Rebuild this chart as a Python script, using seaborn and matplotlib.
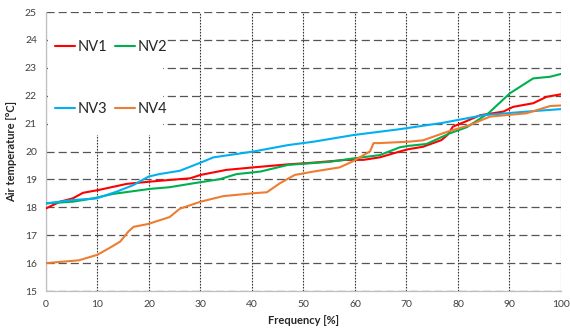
import pandas as pd
import matplotlib
matplotlib.use("Agg")
import matplotlib.pyplot as plt
import seaborn as sns
from matplotlib.patches import Rectangle

# données (fréquence cumulée [%], température [°C])
nv1_freq = [0, 2.7, 5.2, 7.2, 10.2, 15.7, 20.2, 24, 28, 30, 35, 40.2, 47, 51.9, 58.3, 61.6,
            64.8, 68.7, 70.3, 73.2, 76.8, 78, 79, 81.4, 84.3, 88.8, 90.7, 94.6, 97.2, 100]
nv1_temp = [17.96, 18.2, 18.32, 18.52, 18.62, 18.84, 18.92, 18.98, 19.04, 19.16, 19.34, 19.43,
            19.54, 19.6, 19.7, 19.7, 19.79, 20.0, 20.08, 20.17, 20.41, 20.6, 20.89, 21.07, 21.3,
            21.43, 21.6, 21.73, 21.96, 22.05]

nv2_freq = [0, 5.2, 9.2, 13, 17, 20.2, 24, 28.6, 33.8, 37, 41.6, 47, 55.1, 59.6, 64.8, 68.7,
            70.3, 73.9, 78.4, 81.7, 85.9, 90.1, 94.6, 97.9, 100]
nv2_temp = [18.14, 18.2, 18.32, 18.48, 18.58, 18.66, 18.72, 18.86, 19.01, 19.19, 19.28, 19.52,
            19.63, 19.75, 19.87, 20.15, 20.2, 20.27, 20.65, 20.87, 21.37, 22.09, 22.62, 22.68, 22.78]

nv3_freq = [0, 5.2, 9.8, 13.7, 17, 19.9, 22, 26, 30, 32.5, 40.3, 47, 51.9, 59.7, 68.7, 77.1,
            84.9, 93.3, 100]
nv3_temp = [18.14, 18.26, 18.32, 18.56, 18.8, 19.1, 19.19, 19.31, 19.6, 19.79, 20.0, 20.23,
            20.35, 20.59, 20.8, 21.03, 21.3, 21.43, 21.52]

nv4_freq = [0, 6.4, 10, 12.4, 14.4, 16, 17, 19.8, 24, 26, 30, 34.4, 40, 42.9, 45.4, 48.3, 51.9,
            57, 59.4, 62.9, 63.6, 64.5, 70.3, 73.2, 77.8, 82.3, 86.2, 93.3, 97.9, 100]
nv4_temp = [16.0, 16.1, 16.3, 16.55, 16.77, 17.13, 17.3, 17.4, 17.65, 17.95, 18.2, 18.4, 18.5,
            18.54, 18.86, 19.16, 19.28, 19.43, 19.63, 20.0, 20.3, 20.3, 20.35, 20.4, 20.7, 20.95,
            21.25, 21.37, 21.63, 21.65]

series = {"NV1": (nv1_freq, nv1_temp), "NV2": (nv2_freq, nv2_temp),
          "NV3": (nv3_freq, nv3_temp), "NV4": (nv4_freq, nv4_temp)}
colors = {"NV1": "#FF0000", "NV2": "#00B050", "NV3": "#00B0F0", "NV4": "#ED7D31"}

x_ticks = list(range(0, 101, 10))
y_ticks = list(range(15, 26))

df = pd.concat([pd.DataFrame({"freq": f, "temp": t, "serie": name})
                for name, (f, t) in series.items()], ignore_index=True)

sns.set_style("white")
plt.rcParams["font.family"] = ["Lato", "DejaVu Sans"]

fig = plt.figure(figsize=(5.7, 3.29), dpi=100)
ax = fig.add_axes([0.0807, 0.1155, 0.9035, 0.848])
ax.set_axisbelow(True)

sns.lineplot(data=df, x="freq", y="temp", hue="serie", palette=colors, estimator=None,
             sort=False, linewidth=1.5, ax=ax, legend=True, zorder=3)

ax.set_xlim(0, 100)
ax.set_ylim(15, 25)
ax.set_xticks(x_ticks)
ax.set_yticks(y_ticks)
ax.tick_params(axis="both", labelsize=7.5, colors="#404040", length=3, width=0.8,
               direction="out")
ax.tick_params(axis="both", color="#BFBFBF")

# quadrillage
ax.yaxis.grid(True, color="#555555", linewidth=0.9, linestyle=(0, (6.5, 3.2)))
ax.xaxis.grid(True, color="#333333", linewidth=0.8, linestyle=(0, (1.5, 1.2)))

for s in ["top", "right"]:
    ax.spines[s].set_visible(False)
for s in ["left", "bottom"]:
    ax.spines[s].set_color("#BFBFBF")
    ax.spines[s].set_linewidth(0.9)

ax.set_xlabel("Frequency [%]", fontsize=8, fontweight="bold", color="#262626", labelpad=4)
ax.set_ylabel("Air temperature [°C]", fontsize=8, fontweight="bold", color="#262626", labelpad=6)

# fond blanc de la légende
ax.add_patch(Rectangle((0.003, 0.559), 0.225, 0.434, transform=ax.transAxes,
                       facecolor="white", edgecolor="none", zorder=1))

# ordre par lignes : NV1 NV2 / NV3 NV4
handles, labels = ax.get_legend_handles_labels()
order = [labels.index(n) for n in ["NV1", "NV3", "NV2", "NV4"]]
leg = ax.legend([handles[i] for i in order], [labels[i] for i in order],
                loc="upper left", bbox_to_anchor=(-0.006, 0.94), ncol=2,
                frameon=False, fontsize=10.5, handlelength=1.4, handletextpad=0.15,
                columnspacing=0.55, labelspacing=3.25, borderaxespad=0.4)
for t in leg.get_texts():
    t.set_color("#262626")

plt.savefig("out.png", dpi=100)
